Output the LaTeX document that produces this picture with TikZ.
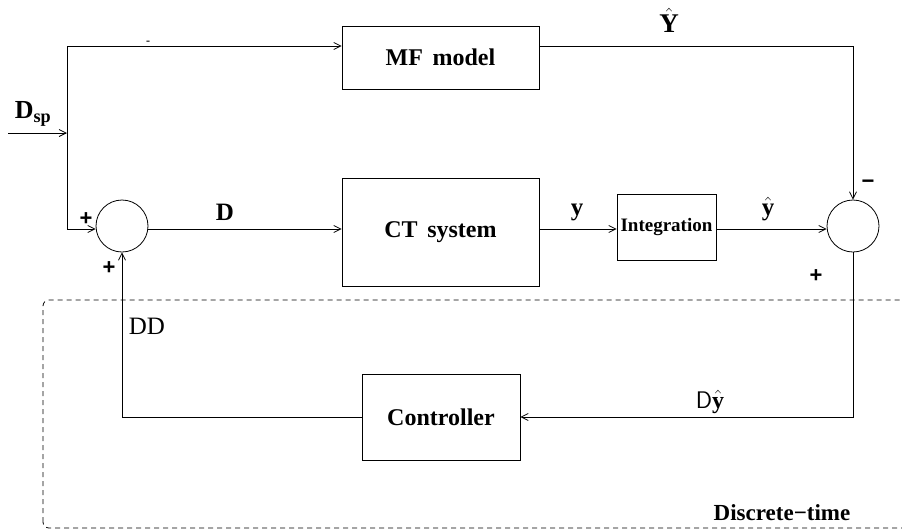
\documentclass[tikz,border=0pt]{standalone}
\usepackage{fontspec}
\setmainfont{Liberation Serif}
\newfontfamily\signfont{Liberation Sans}
\usepackage{amsmath}
\usetikzlibrary{arrows.meta}
\tikzset{
  block/.style={draw, line width=0.8pt, inner sep=0pt, font=\fontsize{24}{26}\selectfont\bfseries},
  sumnode/.style={draw, line width=0.8pt, circle, minimum size=52pt, inner sep=0pt},
  sig/.style={line width=0.8pt, -{Straight Barb[length=7pt, width=7pt]}},
  lbl/.style={font=\fontsize{25}{27}\selectfont\bfseries, inner sep=0pt},
  sgn/.style={font=\fontsize{22}{24}\selectfont\signfont\bfseries, inner sep=0pt}
}

\begin{document}
\begin{tikzpicture}[x=1pt, y=-1pt]
        \useasboundingbox (0,0) rectangle (902,531);
        % discrete-time region
        \draw[dash pattern=on 5pt off 4pt, line width=0.8pt, rounded corners=6pt] (43,528) rectangle (915,300);
        \node[font=\fontsize{23}{25}\selectfont\bfseries, inner sep=0pt] (dtlabel) at (782,513) {Discrete−time};
        % blocks
        \node[block, minimum width=197pt, minimum height=63pt] (mf) at (440.5,57.5) {MF\hspace{0.4em}model};
        \node[block, minimum width=197pt, minimum height=108pt] (ct) at (440.5,232) {CT\hspace{0.4em}system};
        \node[block, minimum width=99pt, minimum height=66pt, font=\fontsize{19}{21}\selectfont\bfseries] (integ) at (666.5,227) {Integration};
        \node[block, minimum width=158pt, minimum height=86pt] (ctrl) at (441,417) {Controller};
        \node[sumnode] (sumL) at (122,226) {};
        \node[sumnode] (sumR) at (853,226) {};
        % corners of the wiring
        \coordinate (topcorner) at (67,46);
        \coordinate (botcorner) at (67,229);
        \coordinate (dspin) at (8,133);
        \coordinate (dspjoin) at (67,133);
        % signals
        \draw[sig] (dspin) -- (dspjoin);
        \node[lbl, font=\fontsize{26}{28}\selectfont\bfseries] (dsplabel) at (33,114) {D$_{\textbf{sp}}$};
        \draw[sig] (botcorner) -- (topcorner) -- (topcorner -| mf.west);
        \draw[sig] (dspjoin) -- (botcorner) -- (botcorner -| sumL.west);
        \draw[sig] (botcorner -| sumL.east) -- (botcorner -| ct.west);
        \node[lbl] (dlabel) at (225,212) {D};
        \draw[sig] (botcorner -| ct.east) -- (botcorner -| integ.west);
        \node[lbl] (ylabel) at (577,212) {y};
        \draw[sig] (botcorner -| integ.east) -- (botcorner -| sumR.west);
        \node[lbl] (yhatsmall) at (768,209) {$\hat{\textbf{y}}$};
        \draw[sig] (topcorner -| mf.east) -- (topcorner -| sumR) -- (sumR.north);
        \node[lbl, font=\fontsize{27}{29}\selectfont\bfseries] (yhat) at (669,20) {$\hat{\textbf{Y}}$};
        \draw[sig] (sumR.south) -- (sumR |- ctrl.east) -- (ctrl.east);
        \node[font=\fontsize{24}{26}\selectfont, inner sep=0pt] (dyhat) at (710,402) {{\sffamily D}$\hat{\textbf{y}}$};
        \draw[sig] (ctrl.west) -- (sumL |- ctrl.west) -- (sumL.south);
        \node[font=\fontsize{25}{27}\selectfont, inner sep=0pt] (ddlabel) at (147,326) {DD};
        % signs
        \node[inner sep=0pt, font=\fontsize{12}{12}\selectfont\bfseries] (tick) at (148,43) {-};
        \node[sgn] (plusA) at (86,219) {+};
        \node[sgn] (plusB) at (109,268) {+};
        \node[sgn] (minusR) at (868,184) {−};
        \node[sgn] (plusR) at (816,276) {+};
\end{tikzpicture}
\end{document}
